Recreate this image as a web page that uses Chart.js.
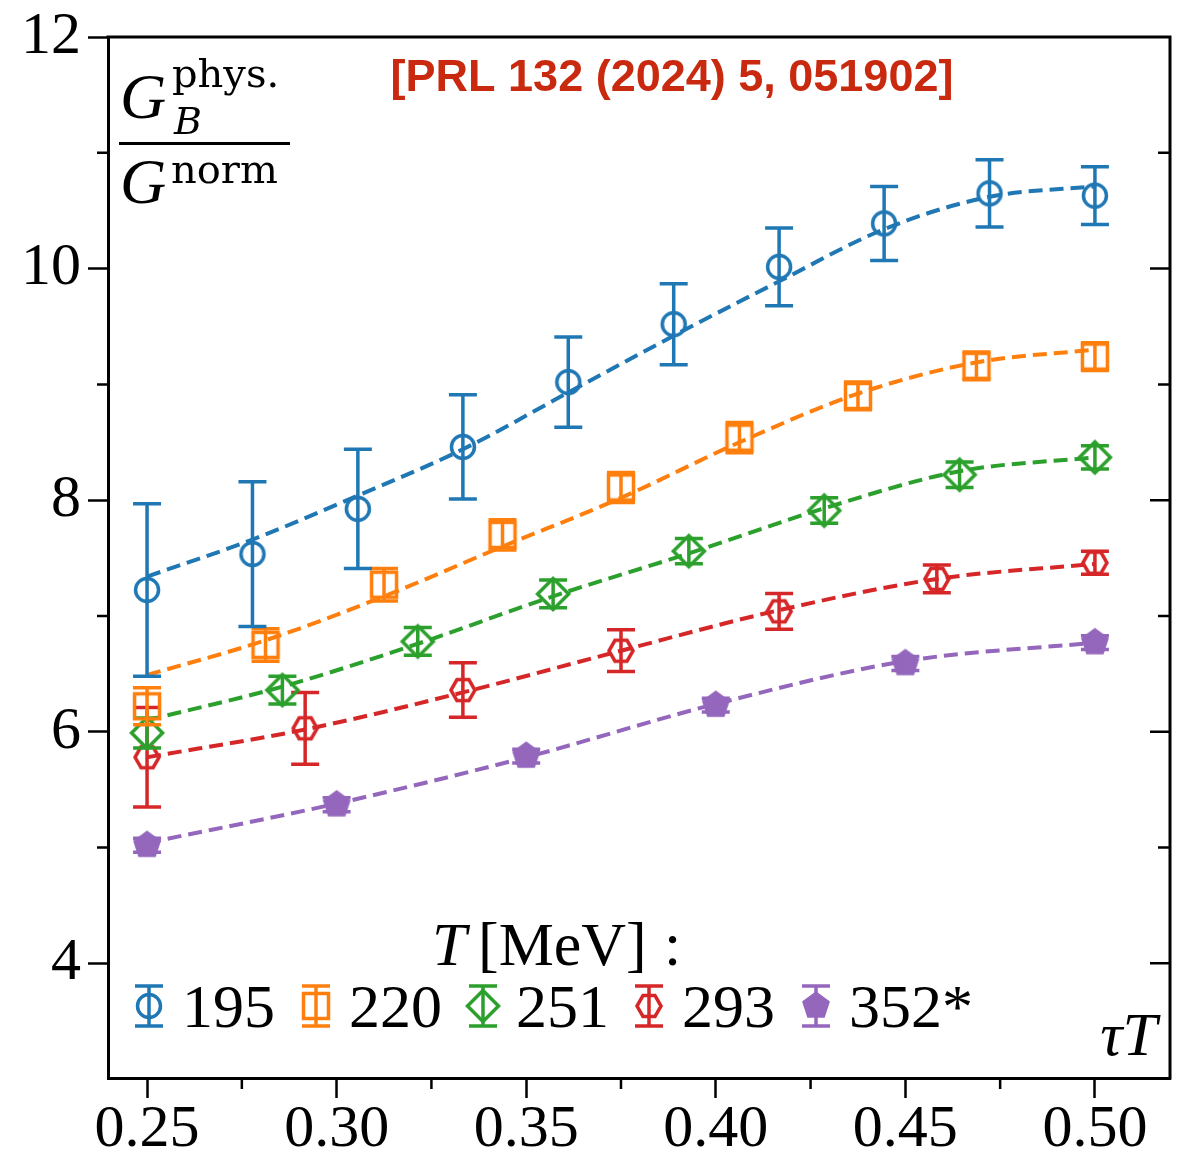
<!DOCTYPE html>
<html>
<head>
<meta charset="utf-8">
<script src="https://cdn.jsdelivr.net/npm/chart.js@4.4.0/dist/chart.umd.min.js"></script>
<style>
  html, body { margin: 0; padding: 0; background: #fff; }
</style>
</head>
<body>
<canvas id="chart" width="1185" height="1158"></canvas>
<script>
// --- data: tau*T, G_B/G_norm, error, fit curve ---
const tau195 = [0.25, 0.2778, 0.3056, 0.3333, 0.3611, 0.3889, 0.4167, 0.4444, 0.4722, 0.5];
const g195 = [7.225, 7.535, 7.925, 8.46, 9.02, 9.52, 10.015, 10.39, 10.65, 10.63];
const err195 = [0.745, 0.625, 0.515, 0.45, 0.39, 0.35, 0.335, 0.32, 0.29, 0.25];
const fit195 = [7.34, 7.66, 8.04, 8.44, 8.93, 9.42, 9.89, 10.34, 10.62, 10.71];

const tau220 = [0.25, 0.28125, 0.3125, 0.34375, 0.375, 0.40625, 0.4375, 0.46875, 0.5];
const g220 = [6.22, 6.75, 7.27, 7.70, 8.11, 8.54, 8.90, 9.16, 9.24];
const err220 = [0.16, 0.14, 0.14, 0.13, 0.13, 0.13, 0.12, 0.12, 0.12];
const fit220 = [6.49, 6.79, 7.17, 7.60, 8.02, 8.50, 8.92, 9.19, 9.30];

const tau251 = [0.25, 0.2857, 0.3214, 0.3571, 0.3929, 0.4286, 0.4643, 0.5];
const g251 = [5.99, 6.36, 6.78, 7.19, 7.56, 7.91, 8.22, 8.37];
const err251 = [0.13, 0.12, 0.12, 0.12, 0.11, 0.11, 0.11, 0.10];
const fit251 = [6.10, 6.39, 6.76, 7.17, 7.54, 7.93, 8.25, 8.37];

const tau293 = [0.25, 0.2917, 0.3333, 0.375, 0.4167, 0.4583, 0.5];
const g293 = [5.78, 6.03, 6.36, 6.70, 7.04, 7.32, 7.46];
const err293 = [0.43, 0.31, 0.235, 0.18, 0.155, 0.12, 0.10];
const fit293 = [5.78, 6.02, 6.34, 6.70, 7.05, 7.32, 7.45];

const tau352 = [0.25, 0.30, 0.35, 0.40, 0.45, 0.5];
const g352 = [5.02, 5.37, 5.79, 6.23, 6.59, 6.77];
const err352 = [0.06, 0.06, 0.06, 0.06, 0.06, 0.06];
const fit352 = [5.04, 5.38, 5.78, 6.24, 6.61, 6.77];

const legendLabels = ['195', '220', '251', '293', '352*'];
const xTicks = [0.25, 0.30, 0.35, 0.40, 0.45, 0.50];
const xTickLabels = ['0.25', '0.30', '0.35', '0.40', '0.45', '0.50'];
const xMinor = [0.275, 0.325, 0.375, 0.425, 0.475];
const yTicks = [4, 6, 8, 10, 12];
const yTickLabels = ['4', '6', '8', '10', '12'];
const yMinor = [5, 7, 9, 11];

const SERIF = '"Liberation Serif", "Times New Roman", serif';
const LW = 3.5;

// draw one of the matplotlib-like markers
function drawMarker(ctx, shape, x, y, color) {
    ctx.save();
    ctx.strokeStyle = color;
    ctx.fillStyle = color;
    ctx.lineWidth = LW;
    ctx.beginPath();
    if (shape === 'circle') {
        ctx.arc(x, y, 11.5, 0, Math.PI * 2);
    } else if (shape === 'square') {
        ctx.rect(x - 12.5, y - 12.5, 25, 25);
    } else if (shape === 'diamond') {
        ctx.moveTo(x, y - 15.5); ctx.lineTo(x + 15.5, y);
        ctx.lineTo(x, y + 15.5); ctx.lineTo(x - 15.5, y);
    } else if (shape === 'hexagon') {
        for (let k = 0; k < 6; k++) {
            const a = k * Math.PI / 3;
            ctx.lineTo(x + 12 * Math.cos(a), y + 12 * Math.sin(a));
        }
    } else if (shape === 'pentagon') {
        for (let k = 0; k < 5; k++) {
            const a = -Math.PI / 2 + k * 2 * Math.PI / 5;
            ctx.lineTo(x + 12.5 * Math.cos(a), y + 12.5 * Math.sin(a));
        }
    }
    ctx.closePath();
    if (shape === 'pentagon') ctx.fill();
    ctx.stroke();
    ctx.restore();
}

function markerCanvas(shape, color) {
    const c = document.createElement('canvas');
    c.width = 42; c.height = 42;
    drawMarker(c.getContext('2d'), shape, 21, 21, color);
    return c;
}

const series = [
    { label: legendLabels[0], color: '#1f77b4', shape: 'circle', x: tau195, y: g195, err: err195, fit: fit195 },
    { label: legendLabels[1], color: '#ff7f0e', shape: 'square', x: tau220, y: g220, err: err220, fit: fit220 },
    { label: legendLabels[2], color: '#2ca02c', shape: 'diamond', x: tau251, y: g251, err: err251, fit: fit251 },
    { label: legendLabels[3], color: '#d62728', shape: 'hexagon', x: tau293, y: g293, err: err293, fit: fit293 },
    { label: legendLabels[4], color: '#9467bd', shape: 'pentagon', x: tau352, y: g352, err: err352, fit: fit352 }
];

const datasets = [];
series.forEach(s => {
    datasets.push({
        type: 'line',
        label: s.label,
        data: s.x.map((v, i) => ({ x: v, y: s.y[i] })),
        showLine: false,
        borderColor: s.color,
        backgroundColor: s.color,
        pointStyle: markerCanvas(s.shape, s.color),
        pointRadius: 13,
        errors: s.err,
        order: 0
    });
    datasets.push({
        type: 'line',
        label: s.label + ' fit',
        data: s.x.map((v, i) => ({ x: v, y: s.fit[i] })),
        borderColor: s.color,
        borderWidth: 4,
        borderDash: [14, 7],
        pointRadius: 0,
        cubicInterpolationMode: 'monotone',
        order: 10
    });
});

// vertical error bars with caps, drawn just under each marker set
const errorBars = {
    id: 'errorBars',
    beforeDatasetDraw(chart, args) {
        const ds = chart.data.datasets[args.index];
        if (!ds.errors) return;
        const { ctx, scales: { x, y } } = chart;
        ctx.save();
        ctx.strokeStyle = ds.borderColor;
        ctx.lineWidth = LW;
        ds.data.forEach((p, i) => {
            const px = x.getPixelForValue(p.x);
            const top = y.getPixelForValue(p.y + ds.errors[i]);
            const bot = y.getPixelForValue(p.y - ds.errors[i]);
            ctx.beginPath();
            ctx.moveTo(px, top); ctx.lineTo(px, bot);
            ctx.moveTo(px - 14, top); ctx.lineTo(px + 14, top);
            ctx.moveTo(px - 14, bot); ctx.lineTo(px + 14, bot);
            ctx.stroke();
        });
        ctx.restore();
    }
};

// frame, minor ticks, annotations and the legend
const decorations = {
    id: 'decorations',
    afterDraw(chart) {
        const { ctx, chartArea: a, scales: { x, y } } = chart;
        ctx.save();
        ctx.strokeStyle = '#000';
        ctx.lineWidth = 3;
        ctx.beginPath();
        ctx.moveTo(a.left - 1.5, a.top); ctx.lineTo(a.right, a.top); ctx.lineTo(a.right, a.bottom + 1.5);
        ctx.stroke();

        ctx.lineWidth = 2.5;
        ctx.beginPath();
        yMinor.forEach(v => {
            const py = y.getPixelForValue(v);
            ctx.moveTo(a.left - 11, py); ctx.lineTo(a.left, py);
            ctx.moveTo(a.right - 12, py); ctx.lineTo(a.right, py);
        });
        yTicks.slice(0, 4).forEach(v => {
            const py = y.getPixelForValue(v);
            ctx.moveTo(a.right - 20, py); ctx.lineTo(a.right, py);
        });
        xMinor.forEach(v => {
            const px = x.getPixelForValue(v);
            ctx.moveTo(px, a.bottom); ctx.lineTo(px, a.bottom + 11);
        });
        ctx.stroke();

        // y label as a fraction
        ctx.fillStyle = '#000';
        ctx.textBaseline = 'alphabetic';
        ctx.textAlign = 'left';
        ctx.font = 'italic 64px ' + SERIF;
        ctx.fillText('G', 120, 118);
        ctx.fillText('G', 120, 203);
        ctx.font = '40px "DejaVu Serif", serif';
        ctx.fillText('phys.', 172, 87);
        ctx.fillText('norm', 171, 183);
        ctx.font = 'italic 38px "DejaVu Serif", serif';
        ctx.fillText('B', 174, 134);
        ctx.fillRect(119, 142, 171, 3);

        // reference
        ctx.fillStyle = '#c9290f';
        ctx.font = 'bold 45px "Liberation Sans", Arial, sans-serif';
        ctx.textAlign = 'center';
        ctx.fillText('[PRL 132 (2024) 5, 051902]', 672, 91);

        // axis name
        ctx.fillStyle = '#000';
        ctx.textAlign = 'right';
        ctx.font = 'italic 62px ' + SERIF;
        ctx.fillText('\u03C4T', 1157, 1055);

        // legend title
        ctx.textAlign = 'left';
        ctx.fillText('T', 432, 965);
        ctx.font = '62px ' + SERIF;
        ctx.fillText('[MeV]', 478, 965);
        ctx.fillText(':', 664, 965);

        // legend entries
        const iconX = [149, 316, 483, 649, 816];
        const iy = 1006;
        series.forEach((s, i) => {
            const cx = iconX[i];
            ctx.strokeStyle = s.color;
            ctx.lineWidth = LW;
            ctx.beginPath();
            ctx.moveTo(cx, iy - 20); ctx.lineTo(cx, iy + 20);
            ctx.moveTo(cx - 14, iy - 20); ctx.lineTo(cx + 14, iy - 20);
            ctx.moveTo(cx - 14, iy + 20); ctx.lineTo(cx + 14, iy + 20);
            ctx.stroke();
            drawMarker(ctx, s.shape, cx, iy, s.color);
            ctx.fillStyle = '#000';
            ctx.font = '62px ' + SERIF;
            ctx.fillText(s.label, cx + 33, 1027);
        });
        ctx.restore();
    }
};

const chart = new Chart(document.getElementById('chart').getContext('2d'), {
    data: { datasets: datasets },
    options: {
        responsive: false,
        animation: false,
        devicePixelRatio: 1,
        layout: { padding: { top: 32, right: 15, left: 0, bottom: 0 } },
        plugins: { legend: { display: false }, tooltip: { enabled: false } },
        scales: {
            x: {
                type: 'linear',
                min: 0.2397,
                max: 0.5198,
                afterBuildTicks: s => { s.ticks = xTicks.map(v => ({ value: v })); },
                afterFit: s => { s.height = 80; },
                grid: { drawOnChartArea: false, tickLength: 20, tickWidth: 2.5, tickColor: '#000' },
                border: { color: '#000', width: 3 },
                ticks: {
                    color: '#000', padding: 2, autoSkip: false, maxRotation: 0,
                    font: { family: SERIF, size: 60, lineHeight: 1 },
                    callback: (v, i) => xTickLabels[i]
                }
            },
            y: {
                type: 'linear',
                min: 3.01,
                max: 12,
                afterBuildTicks: s => { s.ticks = yTicks.map(v => ({ value: v })); },
                afterFit: s => { s.width = 108; },
                grid: { drawOnChartArea: false, tickLength: 20, tickWidth: 2.5, tickColor: '#000' },
                border: { color: '#000', width: 3 },
                ticks: {
                    color: '#000', padding: 7, autoSkip: false,
                    font: { family: SERIF, size: 60, lineHeight: 1 },
                    callback: (v, i) => yTickLabels[i]
                }
            }
        }
    },
    plugins: [errorBars, decorations]
});
</script>
</body>
</html>
